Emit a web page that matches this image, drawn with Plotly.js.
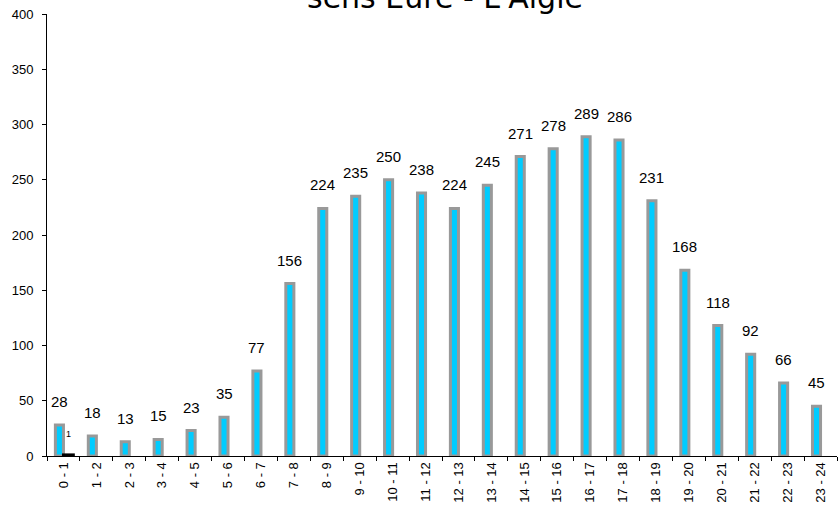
<!DOCTYPE html>
<html>
<head>
<meta charset="utf-8">
<script src="https://cdn.plot.ly/plotly-3.0.1.min.js"></script>
<style>html,body{margin:0;padding:0;background:#fff;}#chart{width:838px;height:507px;}</style>
</head>
<body>
<div id="chart"></div>
<script>
const categories = ["0 - 1","1 - 2","2 - 3","3 - 4","4 - 5","5 - 6","6 - 7","7 - 8","8 - 9","9 - 10","10 - 11","11 - 12","12 - 13","13 - 14","14 - 15","15 - 16","16 - 17","17 - 18","18 - 19","19 - 20","20 - 21","21 - 22","22 - 23","23 - 24"];
const mainValues = [28,18,13,15,23,35,77,156,224,235,250,238,224,245,271,278,289,286,231,168,118,92,66,45];
const secondValues = [1,null,null,null,null,null,null,null,null,null,null,null,null,null,null,null,null,null,null,null,null,null,null,null];
const titleText = "sens Eure - L'Aigle";

const traces = [
  {type:'bar', x:categories, y:mainValues, width:0.245, offset:-0.245,
   marker:{color:'#00CCFF', line:{color:'#999999', width:3}}, hoverinfo:'x+y'},
  {type:'bar', x:categories, y:secondValues, width:0.3, offset:0.0,
   marker:{color:'#000000', line:{color:'#000000', width:3}}, hoverinfo:'x+y'}
];

const annotations = [];
mainValues.forEach((v,i)=>{
  annotations.push({x:categories[i], y:v, xref:'x', yref:'y', text:String(v), showarrow:false,
    xshift:-4, yanchor:'bottom', yshift:13, font:{family:'Liberation Sans, Arial, sans-serif', size:15, color:'#000'}});
});
secondValues.forEach((v,i)=>{
  if(v!==null) annotations.push({x:categories[i], y:v, xref:'x', yref:'y', text:String(v), showarrow:false,
    xshift:5, yanchor:'bottom', yshift:14, font:{family:'Liberation Sans, Arial, sans-serif', size:9, color:'#000'}});
});

const layout = {
  width:838, height:507,
  margin:{l:47, r:1, t:14, b:51},
  paper_bgcolor:'#fff', plot_bgcolor:'#fff',
  showlegend:false,
  barmode:'overlay',
  title:{text:titleText, x:0.531, xanchor:'center', yref:'container', y:0.985, yanchor:'bottom',
    font:{family:'DejaVu Sans, sans-serif', size:30, color:'#000'}},
  xaxis:{type:'category', tickson:'boundaries', ticks:'outside', ticklen:4, tickcolor:'#000',
    showline:true, linecolor:'#000', linewidth:1, showgrid:false, tickangle:-90,
    tickfont:{family:'Liberation Sans, Arial, sans-serif', size:13, color:'#000'}, range:[-0.5,23.5]},
  yaxis:{range:[0,400], dtick:50, ticks:'outside', ticklen:4, tickcolor:'#000', ticklabelstandoff:6,
    showline:true, linecolor:'#000', linewidth:1, showgrid:false, zeroline:false,
    tickfont:{family:'Liberation Sans, Arial, sans-serif', size:13, color:'#000'}},
  annotations:annotations
};
Plotly.newPlot('chart', traces, layout, {displayModeBar:false, staticPlot:true});
</script>
</body>
</html>
